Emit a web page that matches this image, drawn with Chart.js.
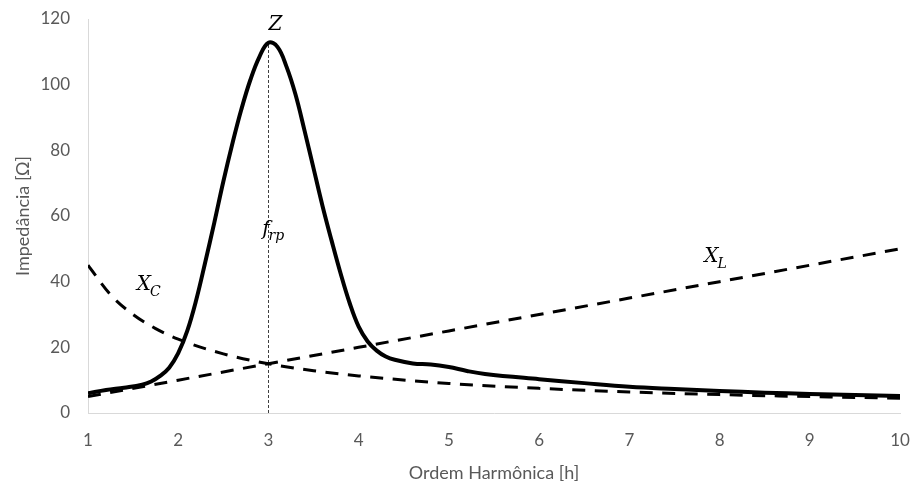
<!DOCTYPE html>
<html>
<head>
<meta charset="utf-8">
<script src="https://cdn.jsdelivr.net/npm/chart.js@4.4.1/dist/chart.umd.min.js"></script>
<style>
html,body{margin:0;padding:0;background:#fff;}
#wrap{width:912px;height:484px;}
</style>
</head>
<body>
<div id="wrap"><canvas id="c" width="912" height="484"></canvas></div>
<script>
// ---- data ----
const zH = [1.0,1.2,1.4,1.6,1.7,1.8,1.9,2.0,2.1,2.2,2.3,2.4,2.5,2.6,2.7,2.8,2.9,3.0,3.1,3.2,3.3,3.4,3.5,3.6,3.7,3.8,3.9,4.0,4.1,4.2,4.3,4.4,4.6,4.8,5.0,5.2,5.4,6.0,6.5,7.0,7.5,8.0,8.5,9.0,9.5,10.0];
const zVals = [6.0,7.0,7.7,8.6,9.6,11.3,13.8,18.2,25.0,34.5,46.0,58.0,70.5,82.0,92.5,101.5,108.5,112.8,111.5,105.5,97.0,86.0,74.5,63.0,52.5,42.5,33.5,26.3,21.8,19.0,17.2,16.2,15.1,14.8,14.0,12.8,11.9,10.3,9.1,8.0,7.3,6.7,6.2,5.8,5.5,5.2];
const xcH = [1,1.25,1.5,1.75,2,2.5,3,3.5,4,5,6,7,8,9,10];
const xcVals = [45,36,30,25.7,22.5,18,15,12.9,11.3,9,7.5,6.4,5.6,5,4.5];
const xlH = [1,2,3,4,5,6,7,8,9,10];
const xlVals = [5,10,15,20,25,30,35,40,45,50];
const xTicks = [1,2,3,4,5,6,7,8,9,10];
const yTicks = [0,20,40,60,80,100,120];
const resonanceH = 3;
const resonanceZ = 112.8;
const labels = [
  {main:'Z', sub:'', h:3.0, v:118.3},
  {main:'f', sub:'rp', h:2.93, v:55.8},
  {main:'X', sub:'C', h:1.54, v:39},
  {main:'X', sub:'L', h:7.83, v:47.5}
];

const pts = (xs, ys) => xs.map((x,i)=>({x:x,y:ys[i]}));

const annot = {
  id:'annot',
  beforeDatasetsDraw(chart){
    const {ctx, scales:{x,y}} = chart;
    ctx.save();
    ctx.strokeStyle = '#404040';
    ctx.lineWidth = 1;
    ctx.setLineDash([3,2]);
    const px = Math.round(x.getPixelForValue(resonanceH)) + 0.5;
    ctx.beginPath();
    ctx.moveTo(px, y.getPixelForValue(0));
    ctx.lineTo(px, y.getPixelForValue(resonanceZ));
    ctx.stroke();
    ctx.restore();
  },
  afterDatasetsDraw(chart){
    const {ctx, scales:{x,y}} = chart;
    ctx.save();
    ctx.fillStyle = '#000';
    ctx.textBaseline = 'middle';
    ctx.textAlign = 'left';
    labels.forEach(l=>{
      const px = x.getPixelForValue(l.h);
      const py = y.getPixelForValue(l.v);
      ctx.font = 'italic 20px "DejaVu Serif"';
      ctx.fillText(l.main, px, py);
      const w = ctx.measureText(l.main).width;
      if (l.sub){
        ctx.font = 'italic 14px "DejaVu Serif"';
        ctx.fillText(l.sub, px + w - 1, py + 7);
      }
    });
    ctx.restore();
  }
};

new Chart(document.getElementById('c'), {
  type:'line',
  data:{
    datasets:[
      {label:'Z', data:pts(zH,zVals), borderColor:'#000', borderWidth:4, pointRadius:0, tension:0.4, fill:false},
      {label:'XC', data:pts(xcH,xcVals), borderColor:'#000', borderWidth:3, borderDash:[13,9.5], pointRadius:0, cubicInterpolationMode:'monotone', fill:false},
      {label:'XL', data:pts(xlH,xlVals), borderColor:'#000', borderWidth:3, borderDash:[13,9.5], pointRadius:0, tension:0, fill:false}
    ]
  },
  options:{
    responsive:false,
    animation:false,
    devicePixelRatio:1,
    layout:{padding:{top:19,right:12,left:0,bottom:0}},
    plugins:{legend:{display:false}, tooltip:{enabled:false}},
    scales:{
      x:{
        type:'linear', min:1, max:10,
        afterBuildTicks(s){ s.ticks = xTicks.map(v=>({value:v})); },
        afterFit(s){ s.height = 71; s.paddingLeft = 0; s.paddingRight = 0; },
        grid:{display:false, drawTicks:false},
        border:{display:true, color:'#d9d9d9', width:1},
        ticks:{color:'#595959', font:{family:'Lato', size:17}, padding:17, maxRotation:0},
        title:{display:true, text:'Ordem Harmônica [h]', color:'#595959', font:{family:'Lato', size:18}, padding:{top:4,bottom:0}}
      },
      y:{
        type:'linear', min:0, max:120,
        afterBuildTicks(s){ s.ticks = yTicks.map(v=>({value:v})); },
        afterFit(s){ s.width = 88; s.paddingTop = 0; s.paddingBottom = 0; },
        grid:{display:false, drawTicks:false},
        border:{display:true, color:'#d9d9d9', width:1},
        ticks:{color:'#595959', font:{family:'Lato', size:17}, padding:18},
        title:{display:true, text:'Impedância [Ω]', color:'#595959', font:{family:'Lato', size:18}, padding:{top:12,bottom:4}}
      }
    }
  },
  plugins:[annot]
});
</script>
</body>
</html>
